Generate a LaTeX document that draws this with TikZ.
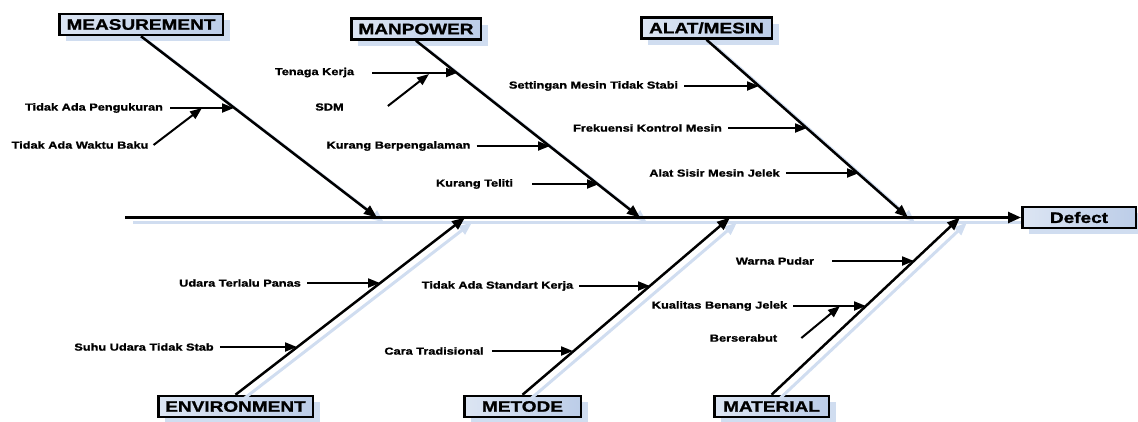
\documentclass[tikz,border=0pt]{standalone}
\usepackage{fontspec}
\newfontfamily\lblfont[FakeStretch=1.25,FakeBold=1.2]{Liberation Sans Bold}
\newfontfamily\catfont[FakeStretch=1.25,FakeBold=1.2]{Liberation Sans Bold}
\usetikzlibrary{arrows.meta,shadows}
\definecolor{boxfill}{RGB}{188,205,232}
\definecolor{boxlight}{RGB}{220,229,243}
\definecolor{shadowblue}{RGB}{208,221,240}
\tikzset{
  catbox/.style={draw=black, line width=2.5pt, left color=boxlight, right color=boxfill,
    minimum height=21pt, inner sep=0pt, font=\catfont\fontsize{15.2}{16}\selectfont,
    drop shadow={shadow xshift=7pt, shadow yshift=-6pt, fill=shadowblue, opacity=1}},
  cause/.style={inner sep=0pt, font=\lblfont\fontsize{10.2}{11}\selectfont},
  bone/.style={line width=2.5pt, -{Triangle[length=13pt,width=10pt]}},
  boneshadow/.style={line width=3pt, draw=shadowblue, -{Triangle[length=13pt,width=10pt]}},
  spine/.style={line width=2.5pt, -{Triangle[length=13pt,width=11pt]}},
  sub/.style={line width=2pt, -{Triangle[length=12pt,width=9pt]}}
}
\begin{document}
\begin{tikzpicture}[x=1pt,y=-1pt]
\useasboundingbox (0,0) rectangle (1138,421);
% category boxes
\node[catbox, minimum width=163.5pt] (meas) at (141,24.5) {MEASUREMENT};
\node[catbox, minimum width=129.5pt] (manp) at (416,29) {MANPOWER};
\node[catbox, minimum width=130.5pt] (alat) at (706.5,28) {ALAT/MESIN};
\node[catbox, minimum width=154.5pt] (env) at (235.5,406.5) {ENVIRONMENT};
\node[catbox, minimum width=116.5pt] (meto) at (522.5,406.5) {METODE};
\node[catbox, minimum width=114.5pt] (mate) at (771.5,406.5) {MATERIAL};
\node[catbox, minimum width=113.5pt] (defect) at (1079,217.5) {Defect};
% spine and bone tips
\coordinate (sp0) at (125,217.5);
\coordinate (mtip) at (377,217.5);
\coordinate (ptip) at (640,217.5);
\coordinate (atip) at (908,217.5);
\coordinate (etip) at (465,217.5);
\coordinate (otip) at (730,217.5);
\coordinate (ltip) at (960,217.5);
% shadows of spine and bones
\draw[line width=3pt, draw=shadowblue] ([shift={(8,5)}]sp0) -- ([shift={(0,5)}]defect.west);
\draw[boneshadow] ([shift={(7,5)}]meas.south) -- ([shift={(7,5)}]mtip);
\draw[boneshadow] ([shift={(7,5)}]manp.south) -- ([shift={(7,5)}]ptip);
\draw[boneshadow] ([shift={(7,5)}]alat.south) -- ([shift={(7,5)}]atip);
\draw[boneshadow] ([shift={(7,5)}]env.north) -- ([shift={(7,5)}]etip);
\draw[boneshadow] ([shift={(7,5)}]meto.north) -- ([shift={(7,5)}]otip);
\draw[boneshadow] ([shift={(7,5)}]mate.north) -- ([shift={(7,5)}]ltip);
% spine and bones
\draw[spine] (sp0) -- (defect.west);
\draw[bone] (meas.south) -- (mtip);
\draw[bone] (manp.south) -- (ptip);
\draw[bone] (alat.south) -- (atip);
\draw[bone] (env.north) -- (etip);
\draw[bone] (meto.north) -- (otip);
\draw[bone] (mate.north) -- (ltip);
% causes: MEASUREMENT
\node[cause] (c1) at (94,108) {Tidak Ada Pengukuran};
\node[cause] (c2) at (80,145) {Tidak Ada Waktu Baku};
\coordinate (p1) at (234,108);
\coordinate (p2) at (202,108);
\draw[sub] ([xshift=7pt]c1.east) -- (p1);
\draw[sub] ([xshift=5pt]c2.east) -- (p2);
% MANPOWER
\node[cause] (c3) at (314.5,72.5) {Tenaga Kerja};
\node[cause] (c4) at (329.5,107) {SDM};
\node[cause] (c5) at (398.5,146) {Kurang Berpengalaman};
\node[cause] (c6) at (474.5,184) {Kurang Teliti};
\coordinate (p3) at (458,72.5);
\coordinate (p4) at (429,74);
\coordinate (p5) at (550,146);
\coordinate (p6) at (599,184);
\draw[sub] ([xshift=18pt]c3.east) -- (p3);
\draw[sub] ([xshift=44pt,yshift=1pt]c4.east) -- (p4);
\draw[sub] ([xshift=6pt]c5.east) -- (p5);
\draw[sub] ([xshift=19pt]c6.east) -- (p6);
% ALAT/MESIN
\node[cause] (c7) at (593.5,86) {Settingan Mesin Tidak Stabi};
\node[cause] (c8) at (647.5,128) {Frekuensi Kontrol Mesin};
\node[cause] (c9) at (714.5,173) {Alat Sisir Mesin Jelek};
\coordinate (p7) at (759,86);
\coordinate (p8) at (807,128);
\coordinate (p9) at (859,173);
\draw[sub] ([xshift=6pt]c7.east) -- (p7);
\draw[sub] ([xshift=6pt]c8.east) -- (p8);
\draw[sub] ([xshift=6pt]c9.east) -- (p9);
% ENVIRONMENT
\node[cause] (c10) at (240,283) {Udara Terlalu Panas};
\node[cause] (c11) at (144,347) {Suhu Udara Tidak Stab};
\coordinate (p10) at (380,283);
\coordinate (p11) at (297,347);
\draw[sub] ([xshift=6pt]c10.east) -- (p10);
\draw[sub] ([xshift=6pt]c11.east) -- (p11);
% METODE
\node[cause] (c12) at (497.5,286) {Tidak Ada Standart Kerja};
\node[cause] (c13) at (434,351) {Cara Tradisional};
\coordinate (p12) at (650,286);
\coordinate (p13) at (573,351);
\draw[sub] ([xshift=6pt]c12.east) -- (p12);
\draw[sub] ([xshift=8pt]c13.east) -- (p13);
% MATERIAL
\node[cause] (c14) at (775,261) {Warna Pudar};
\node[cause] (c15) at (719.5,306) {Kualitas Benang Jelek};
\node[cause] (c16) at (743.5,338) {Berserabut};
\coordinate (p14) at (914,261);
\coordinate (p15) at (866,306);
\coordinate (p16) at (840,306);
\draw[sub] ([xshift=18pt]c14.east) -- (p14);
\draw[sub] ([xshift=6pt]c15.east) -- (p15);
\draw[sub] ([xshift=24pt]c16.east) -- (p16);
\end{tikzpicture}
\end{document}
